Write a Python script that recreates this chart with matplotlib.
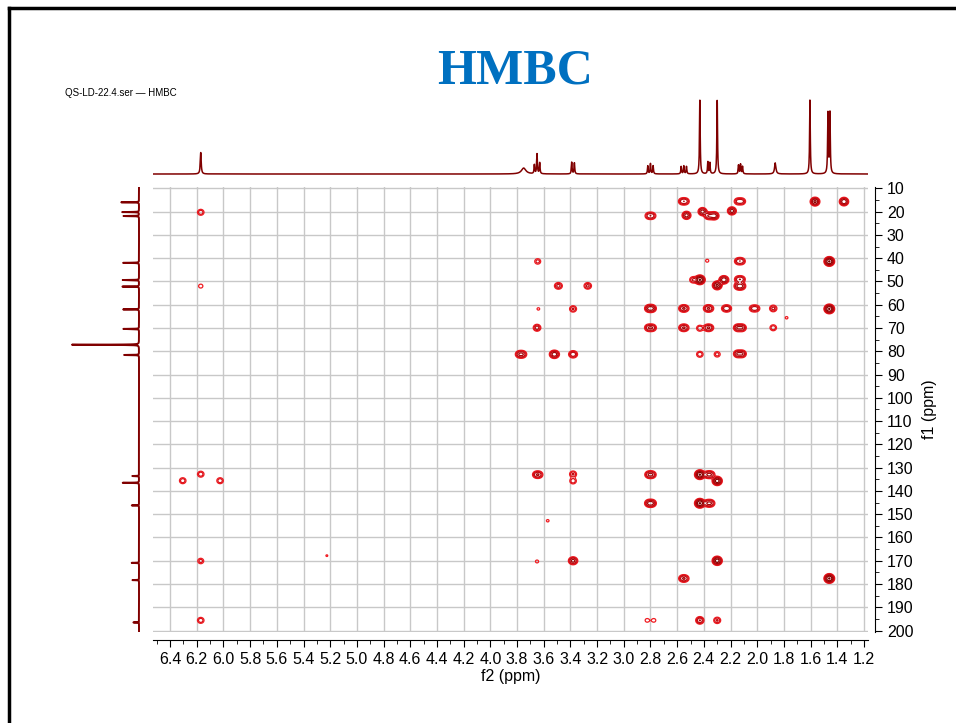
import numpy as np
import matplotlib
matplotlib.use('Agg')
import matplotlib.pyplot as plt
from matplotlib.ticker import MultipleLocator, FormatStrFormatter
from matplotlib.lines import Line2D

plt.rcParams['font.family'] = ['Liberation Sans', 'DejaVu Sans']

# HMBC cross peaks: f2 (1H ppm), f1 (13C ppm), relative intensity, f2 splitting (ppm)
peak_f2 = [2.55, 2.13, 1.567, 1.35, 2.80, 2.53, 2.41, 2.36, 2.32, 2.19,
           3.645, 2.375, 2.13, 1.46, 3.49, 3.27, 2.48, 2.43, 2.30, 2.25,
           2.13, 2.13, 3.64, 3.38, 2.80, 2.55, 2.365, 2.23, 2.02, 1.88,
           1.78, 1.46, 3.65, 2.80, 2.55, 2.43, 2.365, 2.13, 1.88, 3.77,
           3.52, 3.38, 2.43, 2.30, 2.13, 6.305, 6.17, 6.025, 3.645, 3.38,
           3.38, 2.80, 2.43, 2.36, 2.30, 2.80, 2.43, 2.36, 3.57, 5.225,
           6.17, 3.65, 3.38, 2.30, 2.55, 1.46, 6.17, 2.825, 2.775, 2.43,
           2.30, 6.17, 6.17]
peak_f1 = [15.6, 15.6, 15.7, 15.7, 21.8, 21.6, 20.0, 21.8, 21.8, 19.7,
           41.4, 41.1, 41.3, 41.4, 51.9, 51.9, 49.3, 49.3, 51.7, 49.3,
           49.1, 52.0, 61.8, 61.8, 61.6, 61.6, 61.6, 61.6, 61.6, 61.6,
           65.6, 61.8, 69.9, 69.9, 69.9, 70.1, 69.9, 69.9, 69.9, 81.3,
           81.3, 81.3, 81.3, 81.3, 81.1, 135.6, 132.8, 135.6, 133.0, 132.8,
           135.7, 133.0, 133.0, 133.0, 135.7, 145.3, 145.3, 145.3, 152.8, 167.8,
           170.1, 170.3, 170.0, 170.0, 177.6, 177.6, 195.6, 195.6, 195.6, 195.6,
           195.6, 20.3, 52.0]
peak_amp = [4, 4, 12, 10, 4, 8, 8, 4, 8, 8,
            2.5, 1.3, 4, 20, 2.2, 2, 3.5, 20, 12, 5,
            4, 6, 1.2, 3.5, 6, 4, 4, 3.5, 3.5, 4,
            1.2, 20, 4.5, 5, 4, 3, 4, 6, 3, 5,
            5, 3, 3, 2.5, 6, 3, 3, 3, 4, 3.5,
            3, 5, 20, 5, 15, 6, 20, 5, 1.2, 1.1,
            2.5, 1.3, 4, 15, 4, 20, 3, 1.5, 1.5, 6,
            3.5, 3, 1.6]
peak_split = [0.026, 0.03, 0, 0, 0.026, 0, 0, 0.022, 0, 0,
              0, 0, 0.026, 0, 0.012, 0.008, 0, 0, 0, 0.012,
              0.026, 0.026, 0, 0, 0.026, 0.022, 0.022, 0.022, 0.026, 0,
              0, 0, 0, 0.03, 0.022, 0, 0.022, 0.034, 0, 0.026,
              0.015, 0.015, 0, 0, 0.034, 0, 0, 0, 0.022, 0,
              0, 0.026, 0, 0.026, 0, 0.026, 0, 0.026, 0, 0,
              0, 0, 0.012, 0, 0.022, 0, 0, 0, 0, 0,
              0, 0, 0]

# 1H projection (top)
h_shift = [6.17, 3.75, 3.67, 3.65, 3.63, 3.39, 3.37, 2.82, 2.80, 2.78,
           2.57, 2.55, 2.53, 2.43, 2.37, 2.355, 2.30, 2.14, 2.125, 2.11,
           1.865, 1.605, 1.47, 1.455]
h_height = [0.29, 0.08, 0.12, 0.27, 0.15, 0.16, 0.15, 0.11, 0.14, 0.11,
            0.10, 0.11, 0.10, 1.0, 0.16, 0.15, 1.0, 0.12, 0.13, 0.10,
            0.15, 1.0, 0.82, 0.82]
h_width = [0.004, 0.02, 0.003, 0.003, 0.003, 0.003, 0.003, 0.003, 0.003, 0.003,
           0.003, 0.003, 0.003, 0.003, 0.003, 0.003, 0.003, 0.003, 0.003, 0.003,
           0.006, 0.003, 0.003, 0.003]

# 13C projection (left)
c_shift = [16.0, 20.2, 21.9, 42.0, 49.4, 52.2, 62.0, 70.4, 77.2, 81.6,
           133.6, 136.5, 146.2, 170.9, 178.3, 196.5]
c_height = [0.24, 0.23, 0.23, 0.24, 0.23, 0.23, 0.23, 0.22, 1.0, 0.22,
            0.10, 0.22, 0.10, 0.10, 0.09, 0.08]

W, H = 956, 723
XLIM = (6.53, 1.17)
YLIM = (200.6, 9.3)
PLIM = (-0.0405, 1.027)
dark = '#800000'


def box(x0, y0, x1, y1):
    return [x0 / W, 1 - y1 / H, (x1 - x0) / W, (y1 - y0) / H]


fig = plt.figure(figsize=(W / 100, H / 100), dpi=100)

# main 2D contour plot
ax = fig.add_axes(box(152.7, 186.7, 868, 632))
x = np.linspace(1.17, 6.53, 1400)
y = np.linspace(9, 201, 800)
sx, sy = 0.0165, 0.86
Z = np.zeros((len(y), len(x)))
for f2, f1, a, s in zip(peak_f2, peak_f1, peak_amp, peak_split):
    gy = np.exp(-(y - f1) ** 2 / (2 * sy ** 2))
    offs = [0.0] if s == 0 else [-s / 2, s / 2]
    for o in offs:
        gx = np.exp(-(x - f2 - o) ** 2 / (2 * sx ** 2))
        Z += a * np.outer(gy, gx)
levels = [1, 1.8, 3.2, 5.8, 10.5, 19]
cols = ['#f01c22', '#da1018', '#c00a10', '#a60508', '#8e0000', '#760000']
ax.contour(x, y, Z, levels=levels, colors=cols, linewidths=0.9, zorder=3)

ax.set_xlim(XLIM)
ax.set_ylim(YLIM)
ax.xaxis.set_major_locator(MultipleLocator(0.2))
ax.xaxis.set_minor_locator(MultipleLocator(0.1))
ax.xaxis.set_major_formatter(FormatStrFormatter('%.1f'))
ax.yaxis.set_major_locator(MultipleLocator(10))
ax.yaxis.set_minor_locator(MultipleLocator(5))
ax.yaxis.tick_right()
ax.yaxis.set_label_position('right')
ax.grid(True, which='major', color='#c8c8c8', lw=1.0, zorder=0)
ax.set_axisbelow(True)
for side in ['top', 'left']:
    ax.spines[side].set_visible(False)
ax.spines['bottom'].set_position(('outward', 6))
ax.spines['right'].set_position(('outward', 5))
ax.tick_params(which='both', direction='out', labelsize=11.5, color='k')
ax.tick_params(which='major', length=5)
ax.tick_params(which='minor', length=3)
ax.set_xlabel('f2 (ppm)', fontsize=11.5, labelpad=1)
ax.set_ylabel('f1 (ppm)', fontsize=11.5, labelpad=6)

# top 1H trace
axt = fig.add_axes(box(152.7, 98, 868, 177))
xs = np.linspace(1.17, 6.53, 6000)
spec = np.zeros_like(xs)
for d, h, w in zip(h_shift, h_height, h_width):
    spec += h * w ** 2 / ((xs - d) ** 2 + w ** 2)
axt.plot(xs, spec, color=dark, lw=1.1)
axt.set_xlim(XLIM)
axt.set_ylim(PLIM)
axt.axis('off')

# left 13C trace
axl = fig.add_axes(box(60, 186.7, 142, 632))
ys = np.linspace(9.3, 200.6, 4000)
cspec = np.zeros_like(ys)
for d, h in zip(c_shift, c_height):
    cspec += h * 0.06 ** 2 / ((ys - d) ** 2 + 0.06 ** 2)
axl.plot(cspec, ys, color=dark, lw=1.4)
axl.set_ylim(YLIM)
axl.set_xlim(PLIM[1] + 0.0406, PLIM[0])
axl.axis('off')

# page frame and titles
fig.add_artist(Line2D([9 / W, 9 / W], [0, 1 - 7.5 / H], transform=fig.transFigure, color='k', lw=2.5))
fig.add_artist(Line2D([9 / W, 1], [1 - 7.5 / H, 1 - 7.5 / H], transform=fig.transFigure, color='k', lw=2.5))
fig.text(515 / W, 1 - 72 / H, 'HMBC', ha='center', va='center', fontsize=36,
         fontweight='bold', color='#0070c0', family='Liberation Serif')
fig.text(65 / W, 1 - 93 / H, 'QS-LD-22.4.ser \u2014 HMBC', ha='left', va='center', fontsize=7)

fig.savefig('out.png', dpi=100)
